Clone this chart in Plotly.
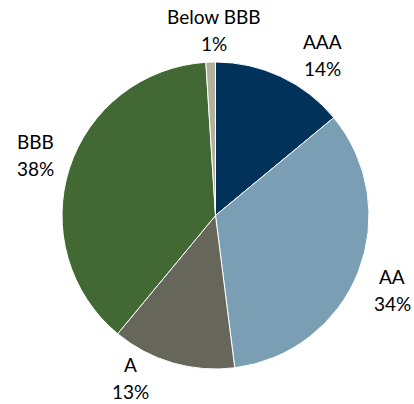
import plotly.graph_objects as go

# Data
categories = ["AAA", "AA", "A", "BBB", "Below BBB"]
shares = [14, 34, 13, 38, 1]
colors = ["#00325a", "#7a9fb5", "#67665a", "#426934", "#b3b09c"]

# Layout constants (pixels)
W, H = 414, 404
cx, cy, R = 215.5, 215.5, 153.5
# label block centers (pixels), one per category
label_pos = [(322, 55), (392, 290), (130, 378), (35, 155), (214, 30)]
line_gap = 27

fig = go.Figure(go.Pie(
    labels=categories,
    values=shares,
    sort=False,
    direction="clockwise",
    rotation=0,
    marker=dict(colors=colors, line=dict(color="white", width=1)),
    textinfo="none",
    hoverinfo="label+percent",
    domain=dict(x=[(cx - R) / W, (cx + R) / W], y=[1 - (cy + R) / H, 1 - (cy - R) / H]),
    showlegend=False,
))

annotations = []
total = sum(shares)
for cat, val, (px, py) in zip(categories, shares, label_pos):
    pct = f"{round(100 * val / total)}%"
    for txt, dy in ((cat, -line_gap / 2), (pct, line_gap / 2)):
        annotations.append(dict(
            x=px / W, y=1 - (py + dy) / H, xref="paper", yref="paper",
            text=txt, showarrow=False, xanchor="center", yanchor="middle",
            font=dict(family="Lato", size=19, color="#000000"),
        ))

fig.update_layout(
    width=W, height=H,
    margin=dict(l=0, r=0, t=0, b=0),
    paper_bgcolor="white", plot_bgcolor="white",
    annotations=annotations,
)

fig.write_html(
    "out.html",
    config={"displayModeBar": False},
    post_script="document.body.style.margin='0';document.body.style.overflow='hidden';",
)
